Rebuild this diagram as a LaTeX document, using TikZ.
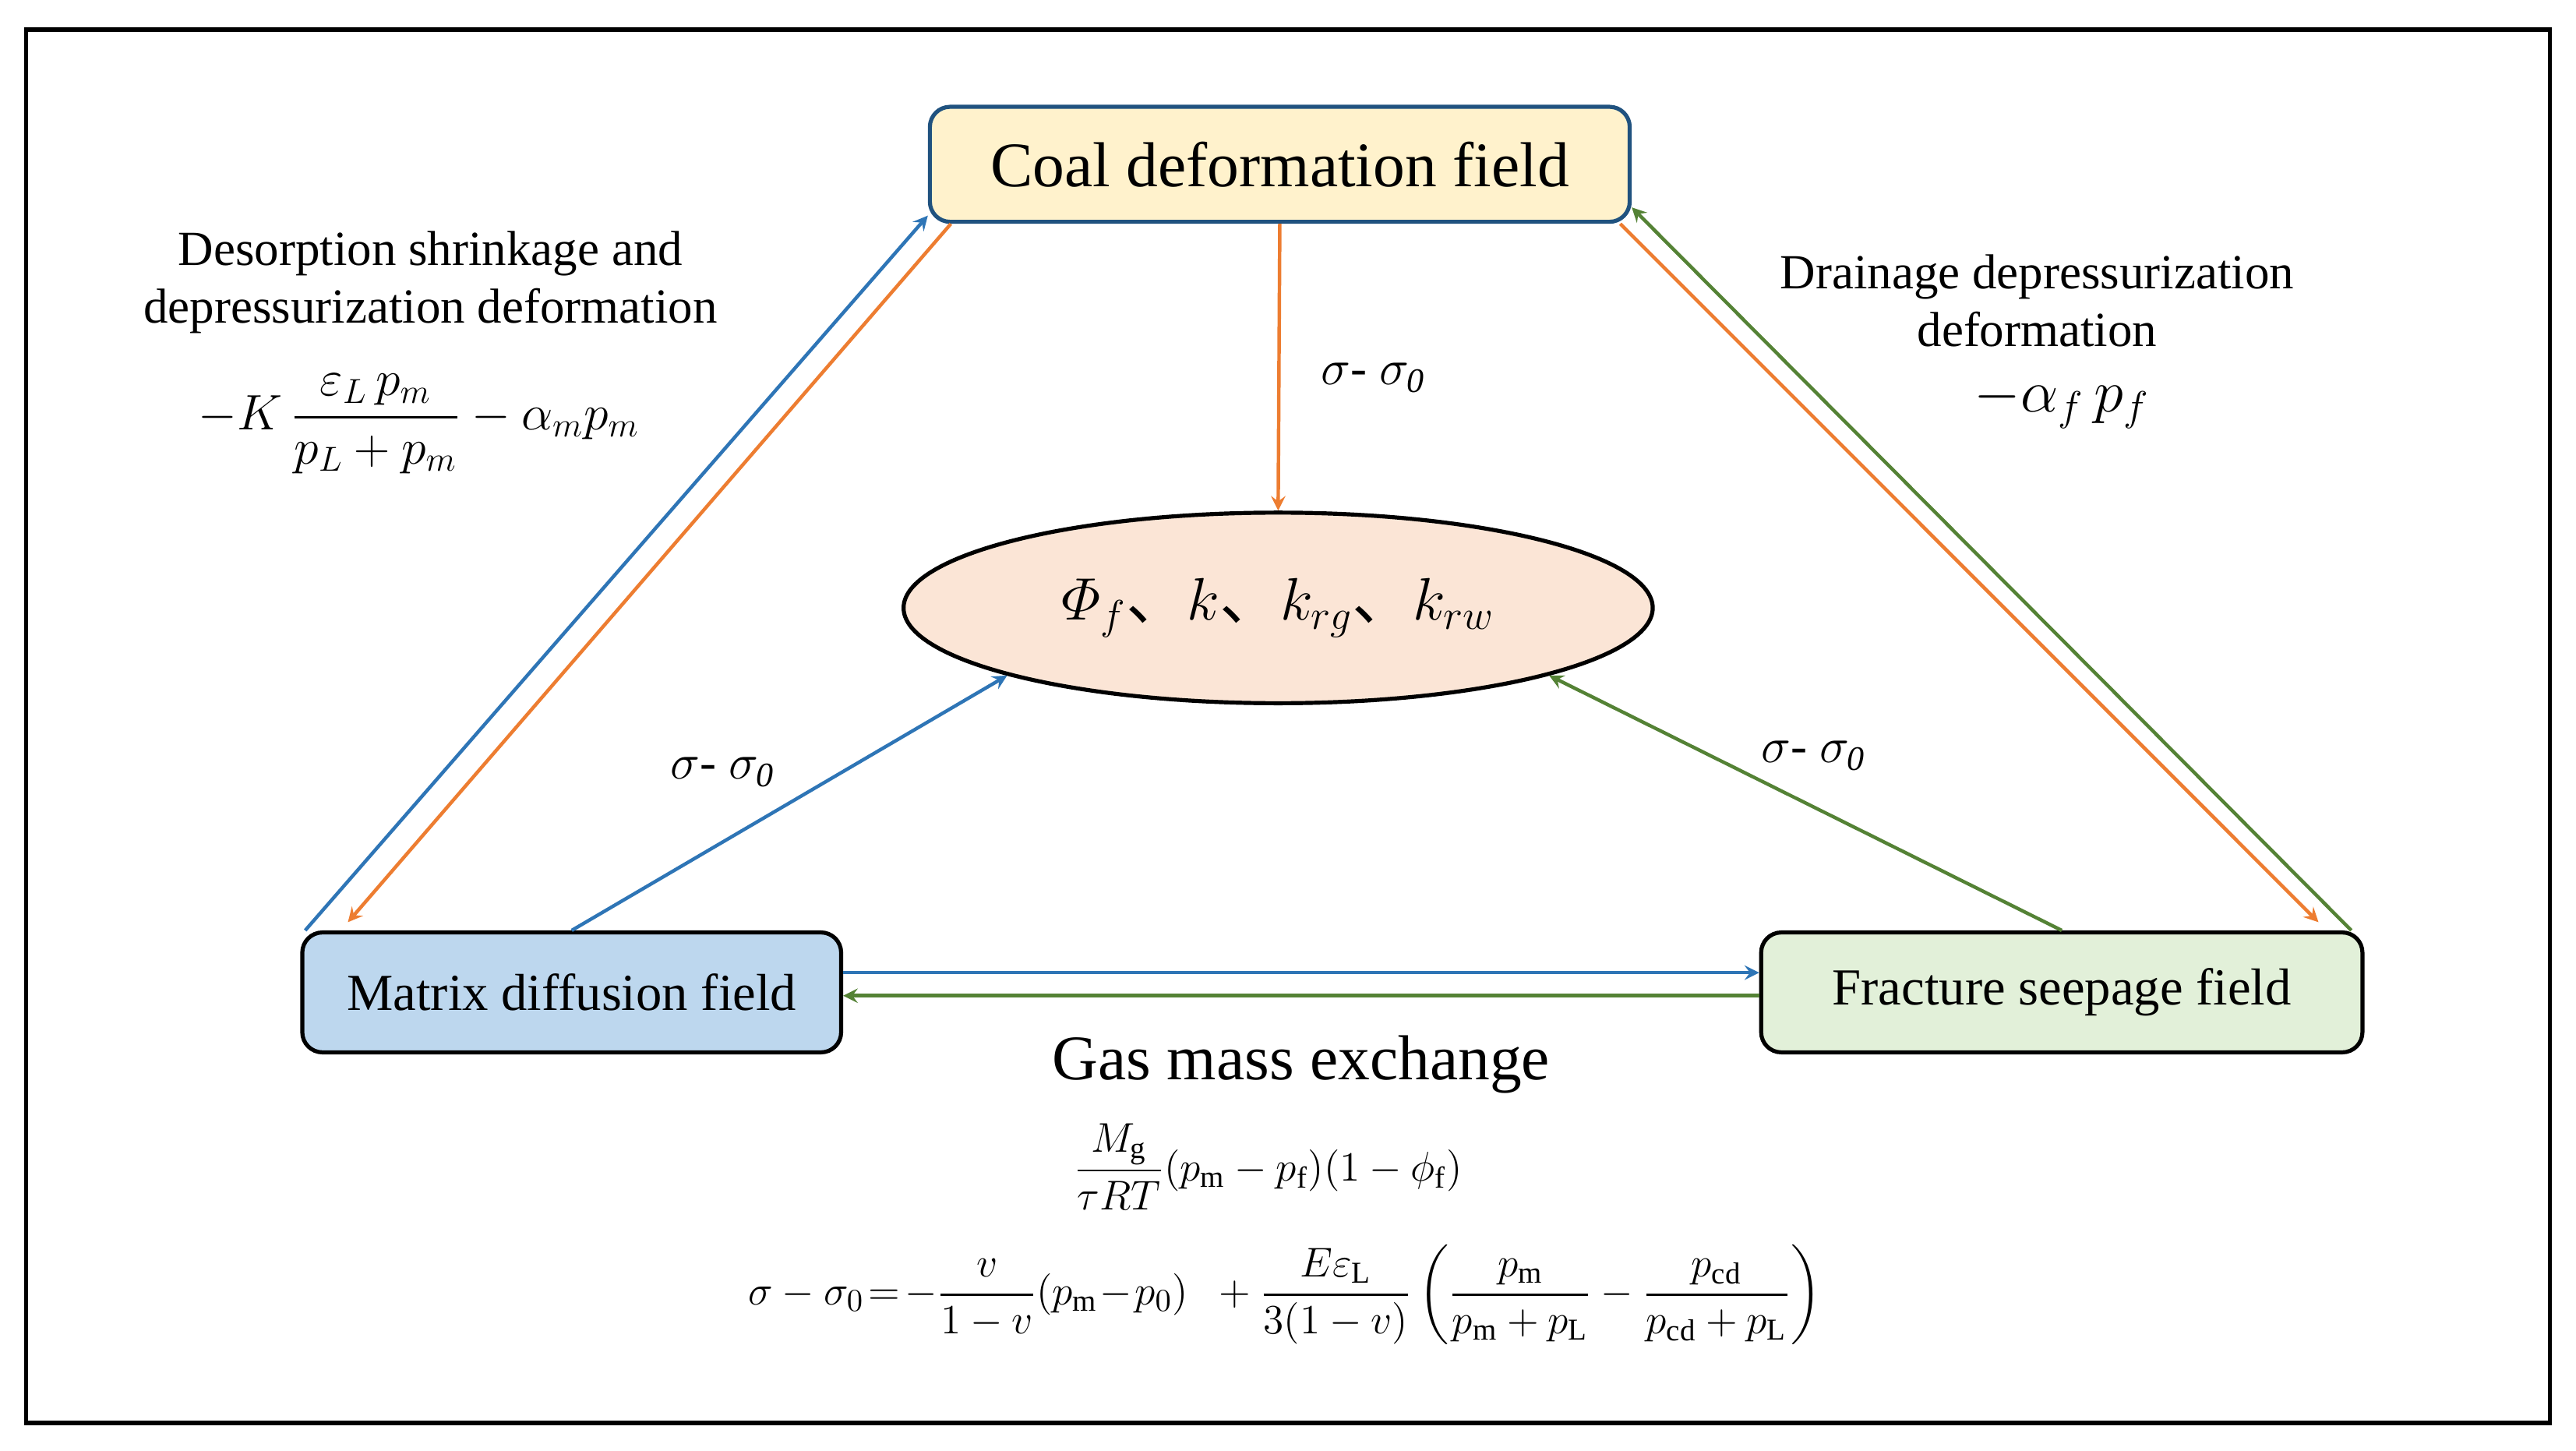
\documentclass[tikz,border=0pt]{standalone}
\usepackage{amsmath}
\usepackage{fontspec}
\setmainfont{Liberation Serif}
\newfontfamily\cjk{Noto Sans CJK SC}
\usetikzlibrary{shapes.geometric, calc, positioning}
\definecolor{arblue}{HTML}{2E75B6}
\definecolor{arorange}{HTML}{ED7D31}
\definecolor{argreen}{HTML}{548235}
\definecolor{coalfill}{HTML}{FFF2CC}
\definecolor{parafill}{HTML}{FBE5D6}
\definecolor{matfill}{HTML}{BDD7EE}
\definecolor{fracfill}{HTML}{E2F0D9}
\newcommand{\dun}{\text{\cjk 、}}

\begin{document}
\begin{tikzpicture}[x=0.2mm, y=-0.2mm,
        field/.style={draw, line width=1.4pt, rounded corners=7pt, align=center, inner sep=0pt},
        lab/.style={align=center, inner sep=0pt, font=\fontsize{17}{20}\selectfont},
        barrow/.style={->, >=stealth, line width=1.2pt, arblue},
        oarrow/.style={->, >=stealth, line width=1.2pt, arorange},
        garrow/.style={->, >=stealth, line width=1.2pt, argreen}
    ]
    \useasboundingbox (0,0) rectangle (1568,883);
    \draw[line width=1.4pt] (16,18) rectangle (1552,866);

    % Nodes
    \node[field, draw=arblue!70!black, fill=coalfill, minimum width=426*0.2mm, minimum height=70*0.2mm,
          font=\fontsize{22}{26}\selectfont] (coal) at (779,100) {Coal deformation field};
    \node[ellipse, draw, line width=1.4pt, fill=parafill, minimum width=456*0.2mm, minimum height=116*0.2mm,
          font=\fontsize{21}{25}\selectfont] (para) at (778,370)
          {$\varPhi_f\dun k\dun k_{rg}\dun k_{rw}$};
    \node[field, fill=matfill, minimum width=328*0.2mm, minimum height=73*0.2mm,
          font=\fontsize{18}{21}\selectfont] (matrix) at (348,604) {Matrix diffusion field};
    \node[field, fill=fracfill, minimum width=366*0.2mm, minimum height=73*0.2mm,
          font=\fontsize{18}{21}\selectfont] (frac) at (1255,604) {Fracture seepage field};

    % Labels
    \node[lab] (deslab) at (262,172) {Desorption shrinkage and\\depressurization deformation};
    \node[lab] (deseq) at (255,258) {$-K\,\dfrac{\varepsilon_L\,p_m}{p_L+p_m}-\alpha_m p_m$};
    \node[lab] (drlab) at (1240,183) {Drainage depressurization\\deformation};
    \node[lab, font=\fontsize{21}{24}\selectfont] (dreq) at (1255,245) {$-\alpha_f\,p_f$};
    \node[lab] (sig1) at (836,230) {$\sigma$- $\sigma_{\mathit{0}}$};
    \node[lab] (sig2) at (440,470) {$\sigma$- $\sigma_{\mathit{0}}$};
    \node[lab] (sig3) at (1104,460) {$\sigma$- $\sigma_{\mathit{0}}$};
    \node[lab, font=\fontsize{22}{26}\selectfont] (gaslab) at (792,648) {Gas mass exchange};
    \node[lab, font=\fontsize{15}{18}\selectfont] (gaseq) at (772,710)
          {$\dfrac{M_{\mathrm{g}}}{\tau RT}(p_{\mathrm{m}}-p_{\mathrm{f}})(1-\phi_{\mathrm{f}})$};
    \node[lab, font=\fontsize{15}{18}\selectfont] (streq) at (782,788)
          {$\sigma-\sigma_0\!=\!-\dfrac{v}{1-v}(p_{\mathrm{m}}\!-\!p_0)\ \ +\dfrac{E\varepsilon_{\mathrm{L}}}{3(1-v)}\left(\dfrac{p_{\mathrm{m}}}{p_{\mathrm{m}}+p_{\mathrm{L}}}-\dfrac{p_{\mathrm{cd}}}{p_{\mathrm{cd}}+p_{\mathrm{L}}}\right)$};

    % Arrows
    \draw[barrow] ($(matrix.north west)+(3,0)$) -- ($(coal.south west)+(0,-5)$);
    \draw[oarrow] ($(coal.south west)+(14,0)$) -- ($(matrix.north west)+(29,-5)$);
    \draw[oarrow] ($(coal.south east)+(-7,0)$) -- ($(frac.north east)+(-28,-5)$);
    \draw[garrow] ($(frac.north east)+(-8,0)$) -- ($(coal.south east)+(0,-10)$);
    \draw[oarrow] (coal.south) -- (para.north);
    \draw[barrow] (matrix.north) -- (para.-166);
    \draw[garrow] (frac.north) -- (para.-14);
    \draw[barrow] ($(matrix.east)+(0,-12)$) -- ($(frac.west)+(0,-12)$);
    \draw[garrow] ($(frac.west)+(0,2)$) -- ($(matrix.east)+(0,2)$);
\end{tikzpicture}
\end{document}
